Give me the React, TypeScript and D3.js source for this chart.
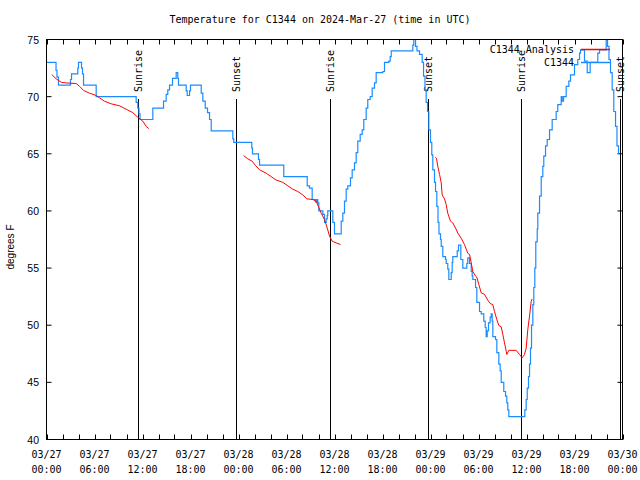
import React from "react";
import * as d3 from "d3";

// hours since 2024-03-27 00:00 UTC, temperature °F
const obsHours = [0.00,1.19,1.31,1.50,3.00,3.13,3.91,4.00,4.38,4.50,4.63,6.21,11.21,11.41,11.56,11.69,13.29,14.63,14.96,15.16,15.38,15.75,16.21,16.41,16.50,17.46,17.59,17.88,18.00,19.34,19.54,19.84,20.13,20.38,20.59,23.29,23.41,25.66,25.75,26.50,26.63,29.66,32.59,32.88,33.21,33.63,33.79,33.91,34.04,34.54,34.75,34.96,35.09,35.16,35.79,36.00,36.84,37.04,37.25,37.46,37.66,38.00,38.21,38.50,38.71,38.91,39.21,39.46,39.66,39.96,40.16,40.46,40.71,41.00,41.21,42.04,42.25,42.79,42.96,43.09,45.79,45.91,46.13,46.31,46.63,46.96,47.13,47.31,47.46,47.63,47.79,48.00,48.16,48.29,48.50,48.63,48.79,48.94,49.06,49.25,49.34,49.54,49.88,49.96,50.16,50.29,50.59,50.71,50.79,51.34,51.50,51.79,52.04,52.54,52.66,52.88,53.09,53.21,53.29,53.63,53.79,54.13,54.34,54.66,54.84,54.96,55.09,55.25,55.46,55.59,55.71,55.79,56.13,56.29,56.54,56.71,56.84,57.16,57.38,57.54,57.66,57.79,59.79,59.96,60.09,60.25,60.38,60.50,60.63,60.79,60.91,61.04,61.16,61.34,61.41,61.63,61.84,62.04,62.16,62.38,62.59,62.88,63.21,63.71,63.91,64.34,64.46,64.63,64.96,65.29,65.50,66.00,66.41,66.63,66.75,67.25,67.59,67.96,68.91,69.13,69.96,70.13,70.31,70.50,70.71,70.91,71.13,71.31,71.50];
const obsTemps = [73,72.3,71.7,71,71.5,72,72.5,73,72.5,72,71,70,69.5,69,68.5,68,69,69.6,70.2,70.6,71,71.6,72.1,71.6,71,70.5,70.1,70.5,71,70.3,69.6,69,68.6,68,67,66.3,66,65.5,65,64.5,64,63,62.2,62,61,60.8,61,60.7,60,59.7,59,59.3,59.6,60,59,58,59.1,59.8,60.85,61.9,62.2,62.9,63.6,64.2,65.1,66.1,66.7,67.1,68,69,69.75,70,70.75,71.2,72.1,72.2,73,73.1,73.5,74,74.5,75,74.4,74,73.7,73,71.8,70.6,69.5,68.7,67.1,66,64.9,63.6,62.5,61.7,60.4,59,58,57.5,56.9,56,55.75,55.4,54.9,54,54.6,55.5,56,56.5,57,55.75,55,55.4,55.9,55.4,54.7,54.3,54,53.3,52,51.2,51,50.35,49.8,49,49.5,50.2,50.7,51,50.35,49,48.75,47.6,46.6,46,45,44.2,43.8,43.2,42.6,42,42.6,43.5,44.5,45.5,46.6,48,50,51.8,53.3,55,57.3,58.4,59.8,61.3,63,63.9,64.8,65.7,66.25,67.1,68,68.7,69.3,70,69.6,70,70.9,71.35,71.9,72.8,73.25,73.8,74.1,73.1,72.1,73,73.8,74.1,75,74.4,73.25,72.1,70.6,68.7,67.4,65.7,65];

const anaHours1 = [0.66,1.21,1.84,2.46,3.71,4.13,4.66,5.38,6.21,6.63,7.25,8.09,9.13,9.96,10.79,11.41,12.04,12.46,12.79];
const anaTemps1 = [71.93,71.56,71.26,71.2,71.15,70.9,70.53,70.3,70.1,69.9,69.6,69.37,69.2,68.9,68.6,68.2,67.85,67.4,67.2];
const anaHours2 = [24.63,25.16,25.71,26.13,26.63,27.46,28.09,28.71,29.54,30.16,30.79,31.41,32.04,32.54,33.29,33.71,34.04,34.34,34.75,35.09,35.38,35.71,36.21,36.75];
const anaTemps2 = [64.85,64.56,64.35,63.97,63.6,63.3,63.0,62.7,62.5,62.2,61.9,61.7,61.4,61.06,61.0,60.85,60.3,59.8,59.25,58.5,57.8,57.35,57.2,57.06];
const anaHours3 = [48.59,48.75,48.91,49.13,49.34,49.46,49.75,49.96,50.16,50.5,50.79,51.13,51.41,51.84,52.25,52.66,52.88,53.09,53.29,53.63,53.79,54.04,54.34,54.75,55.16,55.46,55.79,56.0,56.29,56.54,56.84,57.04,57.25,57.46,57.54,57.79,58.71,59.13,59.46,59.75,59.96,60.16,60.38,60.59,60.71];
const anaTemps3 = [64.7,64.6,63.9,63.2,62.46,61.4,61.06,60.56,59.8,59.1,58.95,58.5,58.07,57.6,57.06,56.3,56.2,55.45,54.7,54.3,54.2,53.56,52.83,52.7,52.19,51.9,51.8,51.2,50.5,49.97,49.86,49.19,48.46,47.73,47.44,47.8,47.8,47.44,47.15,47.44,48.0,49.6,50.8,52.1,52.3];

const sunHours = [11.41, 23.66, 35.38, 47.66, 59.25, 71.63];
const sunLabels = ["Sunrise", "Sunset", "Sunrise", "Sunset", "Sunrise", "Sunset"];

const xTickHours = [0, 6, 12, 18, 24, 30, 36, 42, 48, 54, 60, 66, 72];
const xTickDates = ["03/27","03/27","03/27","03/27","03/28","03/28","03/28","03/28","03/29","03/29","03/29","03/29","03/30"];
const xTickTimes = ["00:00","06:00","12:00","18:00","00:00","06:00","12:00","18:00","00:00","06:00","12:00","18:00","00:00"];
const xMinorHours = d3.range(0, 73, 2);
const yTicks = [40, 45, 50, 55, 60, 65, 70, 75];

const title = "Temperature for C1344 on 2024-Mar-27 (time in UTC)";
const yLabel = "degrees F";
const legendNames = ["C1344 Analysis", "C1344"];

const RED = "#ff0000";
const BLUE = "#1a8cff";
const MONO = "'DejaVu Sans Mono', monospace";
const SANS = "'Liberation Sans', Arial, sans-serif";

export default function App() {
  const W = 640, H = 480;
  const L = 46.5, R = 622.5, T = 39.5, B = 439.5;
  const x = d3.scaleLinear().domain([0, 72]).range([L, R]);
  const y = d3.scaleLinear().domain([40, 75]).range([B, T]);

  const obs = obsHours.map((h, i) => [h, obsTemps[i]] as [number, number]);
  const obsLine = d3.line<[number, number]>().x(d => x(d[0])).y(d => y(d[1])).curve(d3.curveStepAfter);
  const anaLine = d3.line<[number, number]>().x(d => x(d[0])).y(d => y(d[1]));
  const segs = [
    anaHours1.map((h, i) => [h, anaTemps1[i]] as [number, number]),
    anaHours2.map((h, i) => [h, anaTemps2[i]] as [number, number]),
    anaHours3.map((h, i) => [h, anaTemps3[i]] as [number, number]),
  ];

  return (
    <svg width={W} height={H} style={{ position: "absolute", left: 0, top: 0, background: "#fff" }}>
      <rect x={0} y={0} width={W} height={H} fill="#fff" />
      <text x={320} y={23} textAnchor="middle" fontFamily={MONO} fontSize={10}>{title}</text>

      {xMinorHours.map(h => (
        <g key={"xm" + h}>
          <line x1={Math.round(x(h)) + 0.5} x2={Math.round(x(h)) + 0.5} y1={B} y2={B - 5} stroke="#000" />
          <line x1={Math.round(x(h)) + 0.5} x2={Math.round(x(h)) + 0.5} y1={T} y2={T + 5} stroke="#000" />
        </g>
      ))}
      {yTicks.map(v => (
        <g key={"y" + v}>
          <line x1={L} x2={L + 5} y1={y(v)} y2={y(v)} stroke="#000" />
          <line x1={R} x2={R - 5} y1={y(v)} y2={y(v)} stroke="#000" />
          <text x={39} y={y(v) + 4} textAnchor="end" fontFamily={SANS} fontSize={10.5}>{v}</text>
        </g>
      ))}
      {xTickHours.map((h, i) => (
        <g key={"xl" + h}>
          <text x={x(h)} y={458} textAnchor="middle" fontFamily={MONO} fontSize={10}>{xTickDates[i]}</text>
          <text x={x(h)} y={473} textAnchor="middle" fontFamily={MONO} fontSize={10}>{xTickTimes[i]}</text>
        </g>
      ))}
      <text transform={`translate(14,247) rotate(-90)`} textAnchor="middle" fontFamily={SANS} fontSize={10}>{yLabel}</text>

      {sunHours.map((h, i) => (
        <g key={"s" + i}>
          <line x1={Math.round(x(h)) + 0.5} x2={Math.round(x(h)) + 0.5} y1={99} y2={B} stroke="#000" />
          <text transform={`translate(${x(h) + 4.5},92) rotate(-90)`} textAnchor="start" fontFamily={MONO} fontSize={10}>{sunLabels[i]}</text>
        </g>
      ))}

      <path d={obsLine(obs) || ""} fill="none" stroke={BLUE} strokeWidth={1.2} />
      {segs.map((s, i) => (
        <path key={"a" + i} d={anaLine(s) || ""} fill="none" stroke={RED} strokeWidth={1} />
      ))}

      <text x={574} y={53} textAnchor="end" fontFamily={MONO} fontSize={10}>{legendNames[0]}</text>
      <line x1={581} x2={610} y1={49.5} y2={49.5} stroke={RED} strokeWidth={1.5} />
      <text x={574} y={66} textAnchor="end" fontFamily={MONO} fontSize={10}>{legendNames[1]}</text>
      <line x1={581} x2={610} y1={62.5} y2={62.5} stroke={BLUE} strokeWidth={1.5} />

      <rect x={L} y={T} width={R - L} height={B - T} fill="none" stroke="#000" />
    </svg>
  );
}
